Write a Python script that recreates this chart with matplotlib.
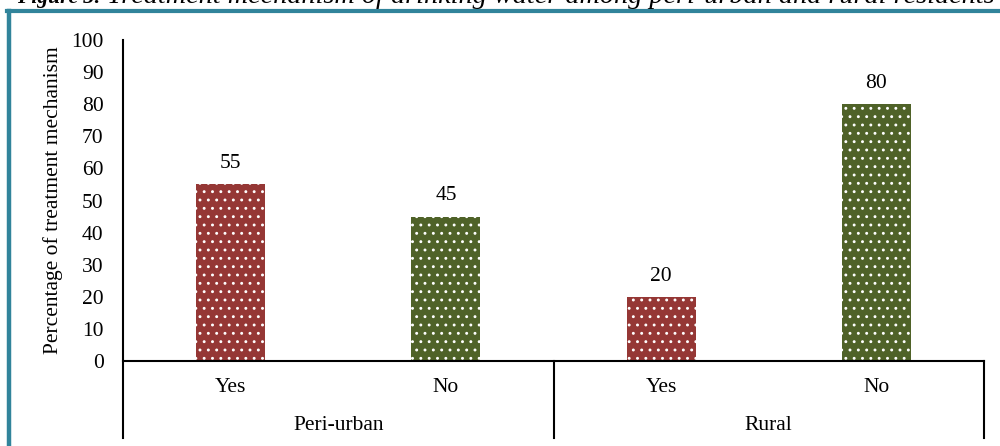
import matplotlib.pyplot as plt
from matplotlib.lines import Line2D

plt.rcParams['font.family'] = ['Liberation Serif', 'DejaVu Serif']
plt.rcParams['hatch.linewidth'] = 0.9

# treatment of drinking water, percent of respondents
groups = ['Peri-urban', 'Rural']
answers = ['Yes', 'No', 'Yes', 'No']
values = [55, 45, 20, 80]
bar_colors = ['#953735', '#4f6228', '#953735', '#4f6228']

fs = 15.5
fig = plt.figure(figsize=(10, 4.46), dpi=100)
ax = fig.add_axes([0.123, 1 - 361 / 446, 0.861, 321 / 446])

x = list(range(len(values)))
bars = ax.bar(x, values, width=0.32, color=bar_colors, edgecolor='white',
              linewidth=0, hatch='..')
for b, v in zip(bars, values):
    ax.annotate(str(v), (b.get_x() + b.get_width() / 2, v), xytext=(0, 8),
                textcoords='offset points', ha='center', va='bottom', fontsize=fs)

ax.set_xlim(-0.5, 3.5)
ax.set_ylim(0, 100)
ax.set_yticks(range(0, 101, 10))
ax.tick_params(axis='y', length=0, labelsize=fs, pad=14)
ax.set_xticks([])
ax.set_ylabel('Percentage of treatment mechanism', fontsize=fs, labelpad=6)
for s in ['top', 'right', 'left']:
    ax.spines[s].set_visible(False)
ax.spines['bottom'].set_linewidth(1.5)

# two-level category axis drawn below the plot
trans = ax.get_xaxis_transform()
for xi, lab in zip(x, answers):
    ax.text(xi, -26 / 321, lab, transform=trans, ha='center', va='center', fontsize=fs)
for gi, g in enumerate(groups):
    ax.text(gi * 2 + 0.5, -65 / 321, g, transform=trans, ha='center', va='center', fontsize=fs)
low = -77 / 321
for xv in [-0.5, 1.5, 3.5]:
    ax.add_line(Line2D([xv, xv], [low, 1.0 if xv == -0.5 else 0], transform=trans,
                       color='black', lw=1.5, clip_on=False))

# page frame and caption running off the top edge
fig.add_artist(Line2D([8.5 / 1000, 8.5 / 1000], [0, 1 - 11 / 446], color='#31849b', lw=3.2))
fig.add_artist(Line2D([6.5 / 1000, 1], [1 - 11 / 446, 1 - 11 / 446], color='#31849b', lw=3))
fig.text(0.017, 1 - 3 / 446, 'Figure 3:', fontsize=15.5, fontweight='bold', style='italic',
         va='baseline')
fig.text(0.107, 1 - 3 / 446,
         'Treatment mechanism of drinking water among peri-urban and rural residents',
         fontsize=20.3, style='italic', va='baseline')

fig.savefig('out.png', dpi=100)
